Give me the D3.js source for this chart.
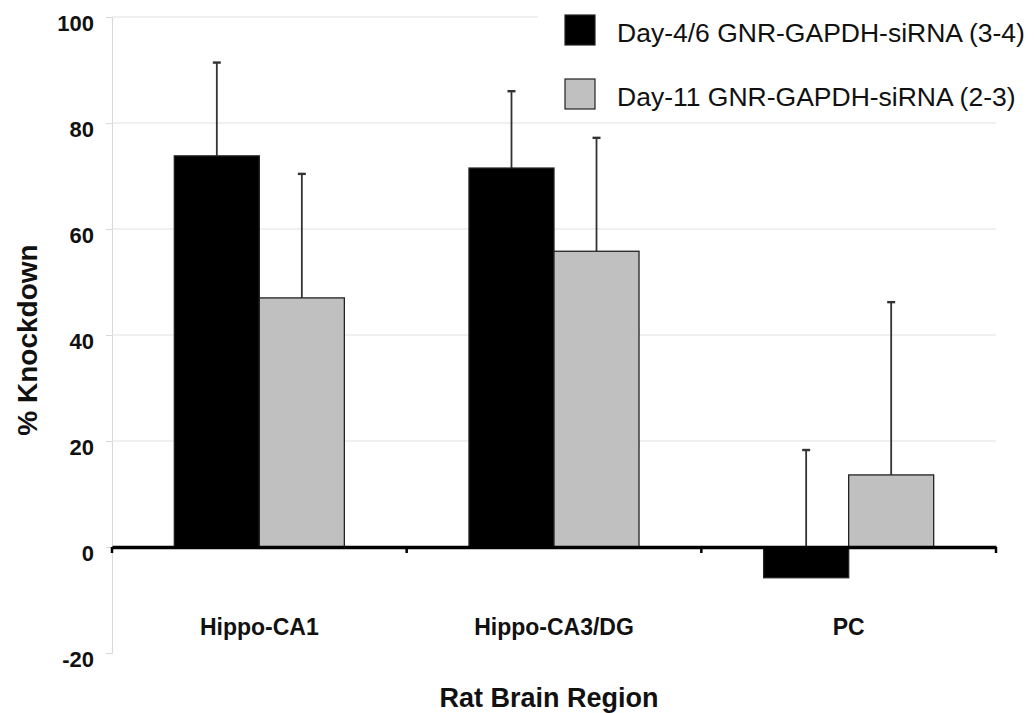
<!DOCTYPE html>
<html>
  <head>
    <meta charset="utf-8">
    <title>Knockdown by region</title>
    <script src="https://cdn.jsdelivr.net/npm/d3@7"></script>
    <style>
      body { margin: 0; background: #fff; }
      text { font-family: Arial, "Liberation Sans", sans-serif; }
    </style>
  </head>
  <body>
    <svg width="1034" height="713" id="mainsvg"></svg>
    <script>
      // data
      const categories = ['Hippo-CA1', 'Hippo-CA3/DG', 'PC'];
      const seriesNames = ['Day-4/6 GNR-GAPDH-siRNA (3-4)', 'Day-11 GNR-GAPDH-siRNA (2-3)'];
      const day46 = [73.8, 71.5, -5.8];
      const day46Err = [17.6, 14.5, 24.1];
      const day11 = [47.0, 55.8, 13.6];
      const day11Err = [23.4, 21.4, 32.6];
      const yTicks = [-20, 0, 20, 40, 60, 80, 100];
      const colors = ['#000000', '#c0c0c0'];

      const svg = d3.select('#mainsvg');
      const margin = {top: 17, right: 38, bottom: 60, left: 112};
      const width = +svg.attr('width');
      const height = +svg.attr('height');

      const yScale = d3.scaleLinear()
        .domain([-20, 100])
        .range([653, margin.top]);

      const x0 = d3.scaleBand()
        .domain(categories)
        .range([margin.left, width - margin.right]);

      const x1 = d3.scaleBand()
        .domain([0, 1])
        .range([0, x0.bandwidth()])
        .paddingInner(0)
        .paddingOuter(0.733);

      // y axis with light grid
      const yAxis = d3.axisLeft(yScale)
        .tickValues(yTicks)
        .tickFormat(d => String(d)) // plain hyphen like the original
        .tickSize(6)
        .tickPadding(12);
      const yAxisGroup = svg.append('g')
        .attr('transform', `translate(${margin.left},0)`)
        .call(yAxis);
      yAxisGroup.select('.domain').attr('stroke', '#d8d8d8');
      yAxisGroup.selectAll('.tick line').attr('stroke', '#d8d8d8');
      yAxisGroup.selectAll('.tick text')
        .attr('dy', '0.62em')
        .style('font-size', '22px')
        .style('font-weight', 'bold')
        .attr('fill', '#111');

      svg.append('g').selectAll('line')
        .data(yTicks.filter(d => d > 0))
        .join('line')
        .attr('x1', margin.left)
        .attr('x2', width - margin.right)
        .attr('y1', d => yScale(d))
        .attr('y2', d => yScale(d))
        .attr('stroke', '#e2e2e2')
        .attr('stroke-width', 1.2);

      // legend box sits over the grid
      svg.append('rect')
        .attr('x', 538).attr('y', 0)
        .attr('width', width - 538).attr('height', 122)
        .attr('fill', '#fff');

      // bars + error bars
      const series = [
        {vals: day46, errs: day46Err},
        {vals: day11, errs: day11Err}
      ];
      const g = svg.append('g');
      series.forEach((s, si) => {
        categories.forEach((c, ci) => {
          const v = s.vals[ci];
          const bx = x0(c) + x1(si);
          const cx = bx + x1.bandwidth() / 2;
          const top = yScale(v + s.errs[ci]);
          g.append('line')
            .attr('x1', cx).attr('x2', cx)
            .attr('y1', yScale(Math.max(v, 0))).attr('y2', top)
            .attr('stroke', '#333').attr('stroke-width', 1.8);
          g.append('line')
            .attr('x1', cx - 4).attr('x2', cx + 4)
            .attr('y1', top).attr('y2', top)
            .attr('stroke', '#333').attr('stroke-width', 2.4);
          g.append('rect')
            .attr('x', bx)
            .attr('y', yScale(Math.max(v, 0)))
            .attr('width', x1.bandwidth())
            .attr('height', Math.abs(yScale(v) - yScale(0)))
            .attr('fill', colors[si])
            .attr('stroke', '#222')
            .attr('stroke-width', 1.3);
        });
      });

      // zero line with band ticks
      const xAxis = d3.axisBottom(x0)
        .tickSize(0)
        .tickPadding(72);
      const xAxisGroup = svg.append('g')
        .attr('transform', `translate(0,${yScale(0)})`)
        .call(xAxis);
      xAxisGroup.select('.domain')
        .attr('stroke', '#000').attr('stroke-width', 3.5);
      xAxisGroup.selectAll('.tick text')
        .style('font-size', '23px')
        .style('font-weight', 'bold')
        .attr('fill', '#111');
      const bounds = categories.map(c => x0(c)).concat([width - margin.right]);
      svg.append('g').selectAll('line')
        .data(bounds)
        .join('line')
        .attr('x1', d => d).attr('x2', d => d)
        .attr('y1', yScale(0)).attr('y2', yScale(0) + 6)
        .attr('stroke', '#000').attr('stroke-width', 2.5);

      // axis titles
      svg.append('text')
        .attr('x', 549).attr('y', 707)
        .attr('text-anchor', 'middle')
        .style('font-size', '27px')
        .style('font-weight', 'bold')
        .attr('fill', '#111')
        .text('Rat Brain Region');
      svg.append('text')
        .attr('transform', 'translate(37,340) rotate(-90)')
        .attr('text-anchor', 'middle')
        .style('font-size', '28px')
        .style('font-weight', 'bold')
        .attr('fill', '#111')
        .text('% Knockdown');

      // legend
      const legend = svg.append('g').selectAll('g')
        .data(seriesNames)
        .join('g')
        .attr('transform', (d, i) => `translate(565,${15 + i * 64})`);
      legend.append('rect')
        .attr('width', 30).attr('height', 30)
        .attr('fill', (d, i) => colors[i])
        .attr('stroke', '#222').attr('stroke-width', 1.2);
      legend.append('text')
        .attr('x', 52).attr('y', 27)
        .style('font-size', '26.5px')
        .attr('fill', '#111')
        .text(d => d);
    </script>
  </body>
</html>
